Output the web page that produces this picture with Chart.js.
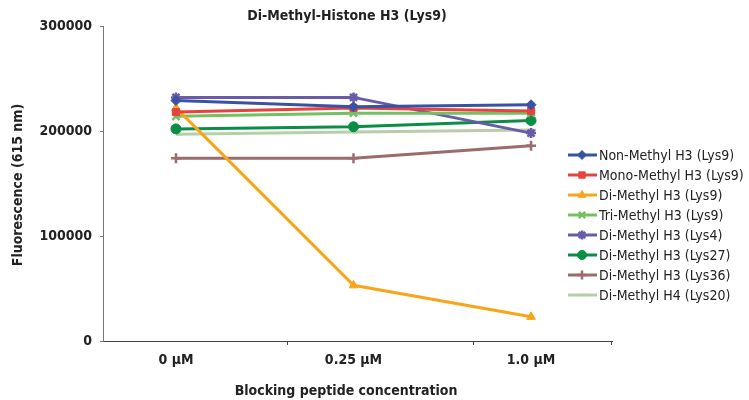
<!DOCTYPE html>
<html>
<head>
<meta charset="utf-8">
<script src="https://cdn.jsdelivr.net/npm/chart.js@4/dist/chart.umd.min.js"></script>
<style>
  html, body { margin: 0; padding: 0; background: #fff; }
  #wrap { width: 749px; height: 400px; }
</style>
</head>
<body>
<div id="wrap"><canvas id="histoneChart"></canvas></div>
<script>
// категории по оси X (позиции 0, 1, 2)
const categories = ["0 µM", "0.25 µM", "1.0 µM"];
const yTicks = [0, 100000, 200000, 300000];

// значения серий
const nonMethylK9 = [229000, 223000, 225000];
const monoMethylK9 = [218000, 222000, 219000];
const diMethylK9 = [222000, 53000, 23000];
const triMethylK9 = [214000, 217000, 217000];
const diMethylK4 = [232000, 232000, 198000];
const diMethylK27 = [202000, 204000, 210000];
const diMethylK36 = [174000, 174000, 186000];
const diMethylH4K20 = [197000, 199000, 201000];

const seriesNames = [
  "Non-Methyl H3 (Lys9)",
  "Mono-Methyl H3 (Lys9)",
  "Di-Methyl H3 (Lys9)",
  "Tri-Methyl H3 (Lys9)",
  "Di-Methyl H3 (Lys4)",
  "Di-Methyl H3 (Lys27)",
  "Di-Methyl H3 (Lys36)",
  "Di-Methyl H4 (Lys20)",
];
const seriesData = [nonMethylK9, monoMethylK9, diMethylK9, triMethylK9, diMethylK4, diMethylK27, diMethylK36, diMethylH4K20];
const seriesColors = ["#3953A4", "#E8423F", "#F9A51A", "#74C163", "#6A5BA8", "#0A8D44", "#9C6B6B", "#B7CFA8"];
const seriesMarkers = ["rectRot", "rect", "triangle", "crossRot", "star", "circle", "cross", "dash"];

const FONT = "'Liberation Sans Narrow', 'DejaVu Sans Condensed', 'Liberation Sans', sans-serif";

const datasets = seriesNames.map((name, i) => ({
  label: name,
  data: seriesData[i].map((v, j) => ({ x: j, y: v })),
  borderColor: seriesColors[i],
  backgroundColor: seriesColors[i],
  borderWidth: 3,
  pointStyle: seriesMarkers[i],
  pointRadius: 5,
  pointBorderWidth: ["crossRot", "star", "cross", "dash"].includes(seriesMarkers[i]) ? 2.5 : 1,
  tension: 0,
}));

// заголовок, подписи осей, засечки и легенда
const decorPlugin = {
  id: "decor",
  afterDraw(chart) {
    const ctx = chart.ctx;
    const area = chart.chartArea;
    const xs = chart.scales.x;
    ctx.save();

    // засечки на оси X
    ctx.strokeStyle = "#444";
    ctx.lineWidth = 1;
    [0.625, 1.673].forEach((v) => {
      const px = Math.round(xs.getPixelForValue(v)) + 0.5;
      ctx.beginPath();
      ctx.moveTo(px, area.bottom);
      ctx.lineTo(px, area.bottom + 4);
      ctx.stroke();
    });
    ctx.beginPath();
    ctx.moveTo(area.right - 0.5, area.bottom);
    ctx.lineTo(area.right - 0.5, area.bottom + 4);
    ctx.stroke();

    ctx.fillStyle = "#222";
    ctx.font = "bold 14px " + FONT;
    ctx.textAlign = "center";
    ctx.textBaseline = "middle";
    ctx.fillText("Di-Methyl-Histone H3 (Lys9)", 347, 16);
    ctx.fillText("Blocking peptide concentration", 346, 391);

    ctx.save();
    ctx.translate(18, 185);
    ctx.rotate(-Math.PI / 2);
    ctx.fillText("Fluorescence (615 nm)", 0, 0);
    ctx.restore();

    // легенда с линией и маркером
    ctx.font = "14px " + FONT;
    ctx.textAlign = "left";
    chart.data.datasets.forEach((ds, i) => {
      const y = 155 + i * 20;
      ctx.strokeStyle = ds.borderColor;
      ctx.lineWidth = 3;
      ctx.beginPath();
      ctx.moveTo(568, y);
      ctx.lineTo(597, y);
      ctx.stroke();
      ctx.fillStyle = ds.backgroundColor;
      ctx.lineWidth = ds.pointBorderWidth;
      Chart.helpers.drawPoint(ctx, { pointStyle: ds.pointStyle, radius: 4.5, rotation: 0, borderWidth: ds.pointBorderWidth }, 582, y);
      ctx.fillStyle = "#222";
      ctx.fillText(ds.label, 599, y + 1);
    });
    ctx.restore();
  },
};

new Chart(document.getElementById("histoneChart"), {
  type: "line",
  data: { datasets: datasets },
  options: {
    responsive: true,
    maintainAspectRatio: false,
    animation: false,
    layout: { padding: { top: 26, right: 137, bottom: 0, left: 0 } },
    scales: {
      x: {
        type: "linear",
        min: -0.411,
        max: 2.456,
        afterBuildTicks: (s) => { s.ticks = [0, 1, 2].map((v) => ({ value: v })); },
        afterFit: (s) => { s.height = 59; },
        grid: { display: false, drawTicks: false },
        border: { display: true, color: "#444", width: 1 },
        ticks: {
          callback: (v) => categories[v],
          font: { family: FONT, size: 14, weight: "bold" },
          color: "#222",
          padding: 11,
          maxRotation: 0,
        },
      },
      y: {
        min: 0,
        max: 300000,
        afterBuildTicks: (s) => { s.ticks = yTicks.map((v) => ({ value: v })); },
        afterFit: (s) => { s.width = 103; },
        grid: { drawOnChartArea: false, tickLength: 3, color: "#777" },
        border: { display: true, color: "#777", width: 1 },
        ticks: {
          callback: (v) => String(v),
          font: { family: FONT, size: 14, weight: "bold" },
          color: "#222",
          padding: 8,
        },
      },
    },
    plugins: {
      legend: { display: false },
      title: { display: false },
      tooltip: { enabled: false },
    },
  },
  plugins: [decorPlugin],
});
</script>
</body>
</html>
